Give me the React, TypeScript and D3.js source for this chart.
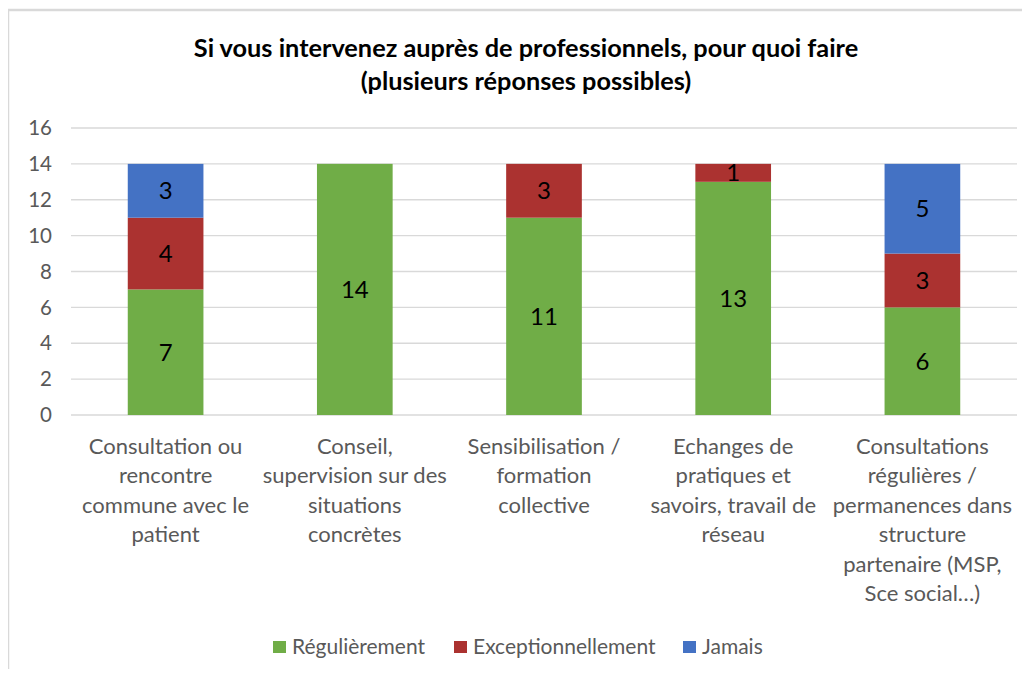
import React from "react";
import * as d3 from "d3";

const categories: string[][] = [
  ["Consultation ou", "rencontre", "commune avec le", "patient"],
  ["Conseil,", "supervision sur des", "situations", "concrètes"],
  ["Sensibilisation /", "formation", "collective"],
  ["Echanges de", "pratiques et", "savoirs, travail de", "réseau"],
  ["Consultations", "régulières /", "permanences dans", "structure", "partenaire (MSP,", "Sce social…)"],
];
const regulierement = [7, 14, 11, 13, 6];
const exceptionnellement = [4, 0, 3, 1, 3];
const jamais = [3, 0, 0, 0, 5];
const seriesNames = ["Régulièrement", "Exceptionnellement", "Jamais"];
const seriesColors = ["#70AD47", "#AB3230", "#4472C4"];
const yTicks = [0, 2, 4, 6, 8, 10, 12, 14, 16];
const titleLines = ["Si vous intervenez auprès de professionnels, pour quoi faire", "(plusieurs réponses possibles)"];

const W = 1030;
const H = 677;
const FONT = "Lato, 'Open Sans', sans-serif";

export default function App() {
  const x0 = 71, x1 = 1017, yTop = 128, yBot = 415;
  const x = d3.scaleBand<number>().domain(d3.range(categories.length)).range([x0, x1]).paddingInner(0.6).paddingOuter(0.3);
  const y = d3.scaleLinear().domain([0, 16]).range([yBot, yTop]);
  const rows = categories.map((_, i) => ({ i, r: regulierement[i], e: exceptionnellement[i], j: jamais[i] }));
  const stack = d3.stack<any>().keys(["r", "e", "j"])(rows);

  return (
    <div style={{ margin: -8 }}>
      <svg width={W} height={H} style={{ display: "block", background: "#fff" }} fontFamily={FONT}>
        <rect x={0} y={0} width={W} height={H} fill="#fff" />
        <line x1={7} x2={W} y1={10} y2={10} stroke="#D9D9D9" strokeWidth={2.5} />
        <line x1={8} x2={8} y1={10} y2={H} stroke="#D9D9D9" strokeWidth={2.5} />
        {titleLines.map((t, k) => (
          <text key={k} x={526} y={48 + k * 33} dy="0.35em" textAnchor="middle" fontSize={25.3} fontWeight="bold" fill="#000">{t}</text>
        ))}
        {yTicks.map((t) => (
          <g key={t}>
            <line x1={x0} x2={x1} y1={y(t)} y2={y(t)} stroke="#D9D9D9" strokeWidth={1.3} />
            <text x={52} y={y(t)} dy="0.35em" textAnchor="end" fontSize={20.5} fill="#595959">{t}</text>
          </g>
        ))}
        {stack.map((s, si) => (
          <g key={si}>
            {s.map((d, i) => {
              const v = d[1] - d[0];
              if (v <= 0) return null;
              const bx = x(i)!;
              return (
                <g key={i}>
                  <rect x={bx} y={y(d[1])} width={x.bandwidth()} height={y(d[0]) - y(d[1])} fill={seriesColors[si]} />
                  <text x={bx + x.bandwidth() / 2} y={y((d[0] + d[1]) / 2)} dy="0.36em" textAnchor="middle" fontSize={24} fill="#000">{v}</text>
                </g>
              );
            })}
          </g>
        ))}
        {categories.map((lines, i) => (
          <text key={i} textAnchor="middle" fontSize={22} fill="#595959">
            {lines.map((l, k) => (
              <tspan key={k} x={x(i)! + x.bandwidth() / 2} y={446 + k * 29.5} dy="0.35em">{l}</tspan>
            ))}
          </text>
        ))}
        {[273, 454, 683].map((lx, k) => (
          <g key={k}>
            <rect x={lx} y={641} width={13} height={12} fill={seriesColors[k]} />
            <text x={lx + 19} y={647} dy="0.35em" fontSize={21} fill="#595959">{seriesNames[k]}</text>
          </g>
        ))}
      </svg>
    </div>
  );
}
